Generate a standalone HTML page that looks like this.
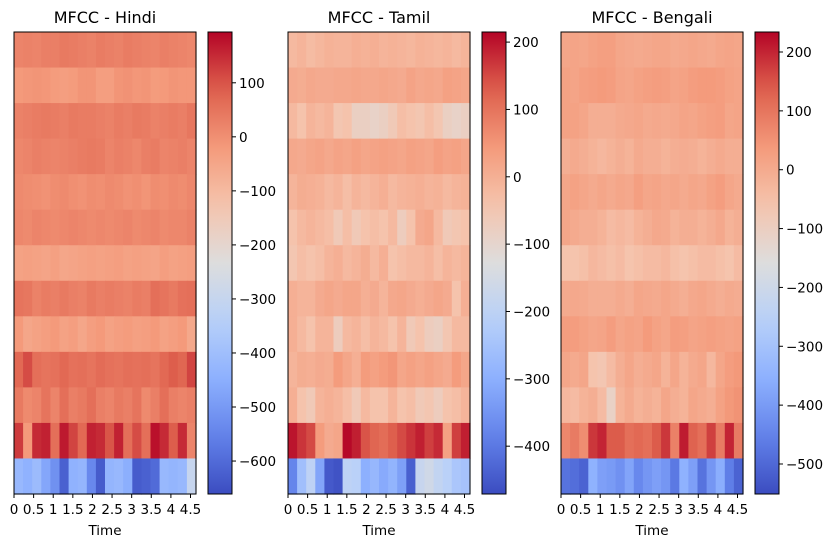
<!DOCTYPE html>
<html><head><meta charset="utf-8"><style>
body{margin:0;background:#fff}
svg text{font-family:"DejaVu Sans","Liberation Sans",sans-serif;fill:#000}
</style></head><body>
<svg id="fig" width="835" height="547" viewBox="0 0 835 547" xmlns="http://www.w3.org/2000/svg"></svg>
<script>
// ---- data ----
const panelTitles = ["MFCC - Hindi","MFCC - Tamil","MFCC - Bengali"];
const valueMins = [-661,-471,-551];
const valueMaxs = [194,215,234];
const cbTicks1 = [100,0,-100,-200,-300,-400,-500,-600];
const cbTicks2 = [200,100,0,-100,-200,-300,-400];
const cbTicks3 = [200,100,0,-100,-200,-300,-400,-500];
const timeTicks = [0,0.5,1,1.5,2,2.5,3,3.5,4,4.5];
const timeTickLabels = ["0","0.5","1","1.5","2","2.5","3","3.5","4","4.5"];
const duration = 4.64;
// rows listed top (coef 12) to bottom (coef 0), 20 frames each
const hindi = [
[20,25,20,30,30,40,35,30,25,35,30,25,35,30,25,20,30,25,20,15],
[-20,-15,-10,-15,-25,-30,-25,-10,-10,-30,-30,-10,-5,-15,-10,-25,-20,-10,-15,-15],
[25,30,35,40,35,30,40,35,35,30,25,35,30,40,35,25,30,35,30,45],
[15,20,30,25,20,25,30,35,40,35,20,30,25,15,30,35,20,25,30,20],
[10,5,0,-5,5,10,0,-5,5,0,10,5,-5,0,-10,5,0,10,5,15],
[15,10,20,15,10,15,20,15,10,15,10,15,20,10,15,20,10,15,15,25],
[-40,-35,-40,-45,-35,-50,-45,-40,-35,-40,-35,-30,-40,-35,-40,-45,-30,-40,-35,-30],
[50,45,25,35,30,40,30,25,40,30,35,30,25,35,30,60,50,40,55,60],
[-20,-50,-40,-30,-20,-40,-30,-50,-30,-20,-40,-30,-25,-35,-30,-20,-40,-30,-20,-55],
[70,110,60,50,55,70,55,60,50,65,55,50,60,55,60,50,70,90,75,120],
[40,10,20,50,20,60,30,40,60,30,20,40,30,50,10,30,60,30,20,30],
[130,-20,150,160,60,170,120,70,160,150,100,160,60,110,60,180,150,90,150,20],
[-420,-440,-410,-470,-520,-620,-440,-430,-540,-630,-430,-420,-450,-630,-620,-600,-420,-430,-420,-300]
];
const tamil = [
[-20,-10,-25,-15,-5,-10,-10,0,-5,0,-10,-5,-10,-15,-5,-10,-15,-10,-20,-10],
[10,5,15,10,10,15,15,20,15,15,20,15,10,25,15,20,15,30,25,20],
[-20,-40,-10,-20,-10,-50,-40,-80,-80,-90,-80,-60,-30,-40,-50,-30,-50,-80,-90,-80],
[15,10,20,25,15,25,20,30,20,25,30,25,20,30,25,20,35,25,30,20],
[-10,5,0,-5,-20,-10,-30,-10,-20,-10,0,-20,-10,-5,0,-10,-5,-20,-10,-5],
[-40,-20,-10,-20,-30,-60,-30,-60,-40,-30,-40,-20,-70,-40,10,20,-20,-60,-50,-40],
[-50,-30,-40,-30,-10,0,-20,-10,5,-20,0,-40,-30,-20,-20,-10,-30,-10,-20,-10],
[0,-10,-10,10,20,10,20,20,0,10,-10,15,20,10,0,10,20,10,-40,0],
[0,-20,-40,-10,-10,-70,-20,-10,-30,-10,-20,-40,-10,-60,-40,-70,-80,-50,-20,-20],
[-10,5,0,10,5,40,20,0,40,30,40,50,20,30,20,30,20,10,40,20],
[0,-40,-60,-10,0,-10,-30,-60,-20,-40,-40,-10,-40,-30,-60,-50,-70,-40,-30,-10],
[200,170,150,40,10,20,210,190,140,120,110,130,150,170,190,160,180,30,160,190],
[-380,-260,-200,-320,-450,-460,-200,-210,-300,-280,-310,-290,-330,-440,-180,-160,-190,-210,-240,-250]
];
const bengali = [
[10,15,10,20,25,25,10,5,0,5,10,10,0,5,10,5,0,10,15,10],
[20,15,25,30,35,30,15,10,20,25,30,25,15,20,30,35,35,30,20,15],
[20,20,10,-10,-10,-10,0,5,10,0,5,0,5,15,10,20,25,30,10,15],
[-10,0,-10,-20,-30,-20,-10,-20,0,-10,-10,-20,-10,-5,-10,-20,-10,0,-10,-10],
[10,20,10,0,10,0,10,5,25,10,15,5,10,0,10,5,20,30,10,0],
[10,0,-10,-10,-20,-40,-30,-40,-20,-10,5,0,-20,-10,-10,-20,-10,5,-20,-10],
[-60,-60,-50,-30,-40,-50,-40,-60,-50,-40,-40,-30,-50,-60,-50,-40,-40,-50,-60,-40],
[0,5,0,-10,-10,-10,0,-10,10,5,0,10,0,-10,5,10,0,-10,0,-5],
[30,30,20,10,15,30,10,20,15,35,20,10,30,25,15,20,25,20,15,20],
[10,0,10,-60,-70,-40,-10,10,-10,0,10,-20,10,-20,0,10,-30,10,30,40],
[-30,-40,-20,-10,-40,-110,-20,0,-20,-10,-20,10,-10,-20,10,0,-10,20,40,50],
[70,90,60,180,200,140,140,110,120,110,140,180,80,210,130,110,170,90,200,90],
[-480,-490,-510,-350,-390,-400,-420,-380,-440,-410,-390,-410,-470,-350,-390,-480,-410,-360,-460,-510]
];
// ---- layout ----
const panelLefts = [14,288,561];
const plotW = 182, plotTop = 32, plotH = 462;
const cbOffset = 194, cbW = 24;
const datasets = [hindi,tamil,bengali];
const cbTickSets = [cbTicks1,cbTicks2,cbTicks3];

const cw = [[0,[59,76,192]],[0.125,[98,130,234]],[0.25,[141,176,254]],[0.375,[184,208,249]],[0.5,[221,221,221]],[0.625,[245,196,173]],[0.75,[244,154,123]],[0.875,[222,96,77]],[1,[180,4,38]]];
function coolwarm(t){
  t=Math.max(0,Math.min(1,t));
  for(let i=1;i<cw.length;i++){
    if(t<=cw[i][0]){
      const a=cw[i-1],b=cw[i],f=(t-a[0])/(b[0]-a[0]);
      const c=a[1].map((v,k)=>Math.round(v+(b[1][k]-v)*f));
      return `rgb(${c[0]},${c[1]},${c[2]})`;
    }
  }
  return "rgb(180,4,38)";
}
const NS="http://www.w3.org/2000/svg";
const svg=document.getElementById('fig');
function mk(tag,attrs,parent){const e=document.createElementNS(NS,tag);for(const k in attrs)e.setAttribute(k,attrs[k]);(parent||svg).appendChild(e);return e;}

const defs=mk('defs',{});
const grad=mk('linearGradient',{id:'cwgrad',x1:0,y1:1,x2:0,y2:0},defs);
for(let i=0;i<=20;i++){mk('stop',{offset:i/20,'stop-color':coolwarm(i/20)},grad);}

datasets.forEach((data,p)=>{
  const L=panelLefts[p];
  const vmin=valueMins[p], vmax=valueMaxs[p];
  const g=mk('g',{});
  
  
  const xs=t=>L+t/duration*plotW;
  const nRows=data.length, rowH=plotH/nRows;
  data.forEach((row,r)=>{
    const nCols=row.length, dt=duration/nCols;
    row.forEach((v,c)=>{
      const x0=xs(c*dt), x1=xs((c+1)*dt);
      const rect=mk('rect',{x:x0.toFixed(2),y:(plotTop+r*rowH).toFixed(2),width:(x1-x0+0.6).toFixed(2),height:(rowH+0.6).toFixed(2),fill:coolwarm((v-vmin)/(vmax-vmin))},g);
      
      
    });
  });
  const frame=mk('rect',{x:L,y:plotTop,width:plotW,height:plotH,fill:'none',stroke:'#000','stroke-width':1},g);
  
  
  const title=mk('text',{x:L+plotW/2,y:23,'text-anchor':'middle','font-size':16},g);
  title.textContent=panelTitles[p];
  
  
  timeTicks.forEach((t,i)=>{
    const x=xs(t);
    const tk=mk('line',{x1:x,y1:plotTop+plotH,x2:x,y2:plotTop+plotH+4,stroke:'#000'},g);
    
    
    const lb=mk('text',{x:x,y:514,'text-anchor':'middle','font-size':13.5},g);
    lb.textContent=timeTickLabels[i];
    
    
  });
  const xt=mk('text',{x:L+plotW/2,y:535,'text-anchor':'middle','font-size':13.5},g);
  xt.textContent='Time';
  
  
  const cbL=L+cbOffset;
  const cb=mk('rect',{x:cbL,y:plotTop,width:cbW,height:plotH,fill:'url(#cwgrad)',stroke:'#000','stroke-width':1},g);
  
  
  const ys=v=>plotTop+(vmax-v)/(vmax-vmin)*plotH;
  cbTickSets[p].forEach(v=>{
    const y=ys(v);
    const tk=mk('line',{x1:cbL+cbW,y1:y,x2:cbL+cbW+4,y2:y,stroke:'#000'},g);
    
    
    const lb=mk('text',{x:cbL+cbW+7,y:y+5,'font-size':13.5},g);
    lb.textContent=v<0?'\u2212'+Math.abs(v):String(v);
    
    
  });
});
</script>
</body></html>
